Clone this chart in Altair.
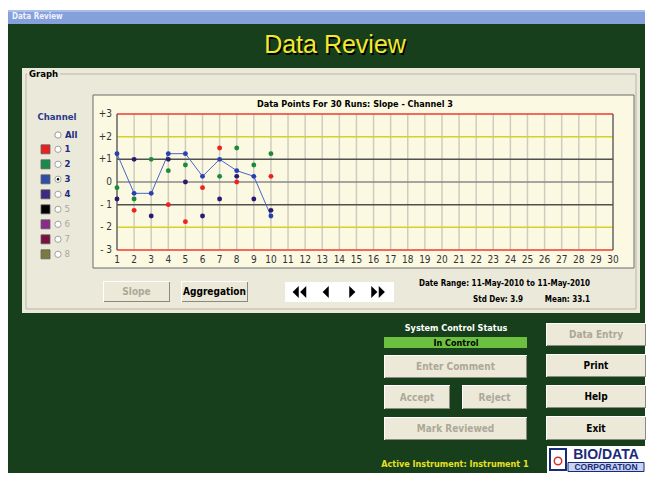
import altair as alt
import pandas as pd

# ---------------- data ----------------
runs = list(range(1, 31))
y_ticks = [3, 2, 1, 0, -1, -2, -3]
y_labels = ["+3", "+2", "+1", "0", "- 1", "- 2", "- 3"]
level_colors = ["#f03a30", "#d8d028", "#505050", "#8a8a8a", "#505050", "#d8d028", "#f03a30"]

ch1_runs = [2, 4, 5, 6, 7, 8, 10]
ch1_vals = [-1.25, -1.0, -1.75, -0.25, 1.5, 0.0, 0.25]
ch2_runs = [1, 2, 3, 4, 5, 7, 8, 9, 10]
ch2_vals = [-0.25, -0.75, 1.0, 0.5, 0.75, 0.25, 1.5, 0.75, 1.25]
ch3_runs = [1, 2, 3, 4, 5, 6, 7, 8, 9, 10]
ch3_vals = [1.25, -0.5, -0.5, 1.25, 1.25, 0.25, 1.0, 0.5, 0.25, -1.5]
ch4_runs = [1, 2, 3, 4, 5, 6, 7, 8, 9, 10]
ch4_vals = [-0.75, 1.0, -1.5, 1.0, 0.0, -1.5, -0.75, 0.25, -0.75, -1.25]

channels = ["1", "2", "3", "4", "5", "6", "7", "8"]
channel_colors = ["#e82020", "#1a8a48", "#2e4ea8", "#3a2a80", "#000000", "#8a2a8a", "#7a1040", "#7a7a40"]
channel_active = [True, True, True, True, False, False, False, False]

title = "Data Points For 30 Runs: Slope - Channel 3"

# ---------------- layout helpers (page pixel coords) ----------------
OX, OY = 117, 114          # plot origin on page
W, H = 496, 136            # plot area
NARROW = "Liberation Sans Narrow, DejaVu Sans Condensed, Arial Narrow, Liberation Sans, sans-serif"
SANS = "Liberation Sans, Arial, sans-serif"
one = alt.Data(values=[{"k": 1}])


def R(x1, y1, x2, y2, fill, stroke=None, sw=1):
    kw = dict(fill=fill)
    if stroke:
        kw.update(stroke=stroke, strokeWidth=sw)
    return alt.Chart(one).mark_rect(**kw).encode(
        x=alt.value(x1 - OX), x2=alt.value(x2 - OX),
        y=alt.value(y1 - OY), y2=alt.value(y2 - OY))


def T(x, y, s, size=10, color="black", bold=False, align="center", font=NARROW, italic=False):
    kw = dict(text=s, fontSize=size, color=color, fontWeight="bold" if bold else "normal",
              align=align, baseline="middle", font=font)
    if italic:
        kw["fontStyle"] = "italic"
    return alt.Chart(one).mark_text(**kw).encode(x=alt.value(x - OX), y=alt.value(y - OY))


def button(x1, y1, x2, y2, label, enabled=True, size=10):
    return [R(x1, y1, x2, y2, "#ffffff"),
            R(x1 + 1, y1 + 1, x2, y2, "#8c8a80"),
            R(x1 + 1, y1 + 1, x2 - 1, y2 - 1, "#ece9d8"),
            T((x1 + x2) / 2, (y1 + y2) / 2 + 0.5, label, size,
              "#000000" if enabled else "#aca899", bold=True)]


def sym(x, y, shape, size, fill, stroke=None, sw=1):
    kw = dict(shape=shape, size=size, filled=True, fill=fill, opacity=1)
    if stroke:
        kw.update(stroke=stroke, strokeWidth=sw)
    return alt.Chart(one).mark_point(**kw).encode(x=alt.value(x - OX), y=alt.value(y - OY))


layers = []
# window chrome
layers.append(R(8, 10, 645, 24, "#86a0dc"))
layers.append(R(8, 10, 645, 12, "#a9bde9"))
layers.append(T(12, 17, "Data Review", 8, "#eef2fb", bold=True, align="left"))
layers.append(R(8, 24, 645, 473, "#173f1c"))
layers.append(T(336.5, 46.5, "Data Review", 25, "#000000", font=SANS))
layers.append(T(335, 45, "Data Review", 25, "#f2e830", font=SANS))

# graph panel
layers.append(R(22, 68, 640, 313, "#ebe9d9"))
layers.append(R(26, 74, 636, 309, "#ebe9d9", stroke="#b8b5a2"))
layers.append(R(27, 69, 60, 79, "#ebe9d9"))
layers.append(T(29, 74, "Graph", 9.5, "#000000", bold=True, align="left"))

# legend
layers.append(T(57, 117, "Channel", 9.5, "#2a3a8a", bold=True))
layers.append(sym(58, 135, "circle", 40, "#ffffff", stroke="#9a9a9a"))
layers.append(T(65, 135, "All", 9.5, "#1e2a80", bold=True, align="left"))
for i, (c, col, act) in enumerate(zip(channels, channel_colors, channel_active)):
    yy = 149.3 + i * 15
    layers.append(R(41, yy - 4.5, 50, yy + 4.5, col, stroke="#606060", sw=0.8))
    layers.append(sym(58, yy, "circle", 40, "#ffffff", stroke="#a0a0a0"))
    if c == "3":
        layers.append(sym(58, yy, "circle", 6, "#000000"))
    layers.append(T(64.5, yy, c, 9.5, "#1e2a80" if act else "#a8a8a8", bold=act, align="left"))

# plot frame and title
layers.append(R(93, 95, 634, 268, "#fbf9e2", stroke="#6a6a6a"))
layers.append(T(355, 104, title, 9, "#000000", bold=True))

# buttons in panel
layers += button(103, 281, 170, 302, "Slope", enabled=False)
layers += button(181, 281, 248, 302, "Aggregation", enabled=True)
layers.append(R(285, 282, 394, 302, "#ffffff"))
left_tri = "M0.45,-1 L0.45,1 L-0.55,0 Z"
right_tri = "M-0.45,-1 L-0.45,1 L0.55,0 Z"
for xx, shp in [(296, left_tri), (303.5, left_tri), (326, left_tri),
                (352, right_tri), (374, right_tri), (381.5, right_tri)]:
    layers.append(sym(xx, 292, shp, 150, "#000000"))
layers.append(T(590, 284, "Date Range: 11-May-2010  to  11-May-2010", 8, "#000000", bold=True, align="right"))
layers.append(T(523, 299.5, "Std Dev: 3.9", 8, "#000000", bold=True, align="right"))
layers.append(T(590, 299.5, "Mean: 33.1", 8, "#000000", bold=True, align="right"))

# lower controls
layers.append(T(456, 328, "System Control Status", 9, "#ffffff", bold=True))
layers.append(R(384, 337, 527, 348, "#6cc040"))
layers.append(T(456, 342.8, "In Control", 9, "#000000", bold=True))
layers += button(384, 355, 527, 378, "Enter Comment", enabled=False)
layers += button(384, 385, 450, 409, "Accept", enabled=False)
layers += button(462, 385, 527, 409, "Reject", enabled=False)
layers += button(384, 417, 527, 440, "Mark Reviewed", enabled=False)
layers += button(546, 323, 646, 346, "Data Entry", enabled=False)
layers += button(546, 354, 646, 377, "Print", enabled=True)
layers += button(546, 385, 646, 408, "Help", enabled=True)
layers += button(546, 416, 646, 440, "Exit", enabled=True)
layers.append(T(455, 464, "Active Instrument: Instrument 1", 9, "#e8e020", bold=True))

# logo
layers.append(R(547, 446, 646, 473, "#ffffff"))
layers.append(R(550, 449, 566, 470, "#ffffff", stroke="#1a2a7a", sw=2))
layers.append(sym(558, 461, "circle", 55, "#ffffff", stroke="#d03030", sw=1.5))
layers.append(T(606, 454.5, "BIO/DATA", 14, "#1a2a7a", bold=True, font=SANS))
layers.append(R(568, 462.5, 644, 471.5, "#c8d4f0", stroke="#1a2a7a"))
layers.append(T(606, 467.3, "CORPORATION", 8.5, "#1a2a7a", bold=True, font=SANS))

# ---------------- plot ----------------
xs = alt.Scale(domain=[1, 30], nice=False, zero=False)
ys = alt.Scale(domain=[-3, 3], nice=False, zero=False)

grid_df = pd.DataFrame({"run": runs, "label": [str(r) for r in runs]})
vgrid = alt.Chart(grid_df).mark_rule(color="#cfccbf", strokeWidth=1.5).encode(
    x=alt.X("run:Q", scale=xs, axis=None),
    y=alt.value(0), y2=alt.value(H))
xlabels = alt.Chart(grid_df).mark_text(fontSize=10, color="#333333", font=NARROW,
                                       baseline="middle", align="center").encode(
    x=alt.X("run:Q", scale=xs, axis=None), y=alt.value(H + 10), text="label:N")

lev_df = pd.DataFrame({"level": y_ticks, "color": level_colors, "label": y_labels})
hlines = alt.Chart(lev_df).mark_rule(strokeWidth=1.5).encode(
    y=alt.Y("level:Q", scale=ys, axis=None),
    x=alt.value(0), x2=alt.value(W),
    color=alt.Color("color:N", scale=None))
ylabels = alt.Chart(lev_df).mark_text(fontSize=10, color="#333333", font=NARROW,
                                      baseline="middle", align="right").encode(
    y=alt.Y("level:Q", scale=ys, axis=None), x=alt.value(-5), text="label:N")

edges = alt.Chart(pd.DataFrame({"run": [runs[0], runs[-1]]})).mark_rule(
    color="#555555", strokeWidth=1.2).encode(
    x=alt.X("run:Q", scale=xs, axis=None), y=alt.value(0), y2=alt.value(H))

pts = pd.concat([
    pd.DataFrame({"run": ch1_runs, "value": ch1_vals, "channel": "1"}),
    pd.DataFrame({"run": ch2_runs, "value": ch2_vals, "channel": "2"}),
    pd.DataFrame({"run": ch4_runs, "value": ch4_vals, "channel": "4"}),
    pd.DataFrame({"run": ch3_runs, "value": ch3_vals, "channel": "3"}),
], ignore_index=True)
pts["order"] = range(len(pts))

line3 = alt.Chart(pd.DataFrame({"run": ch3_runs, "value": ch3_vals})).mark_line(
    color="#4a64c8", strokeWidth=1).encode(
    x=alt.X("run:Q", scale=xs, axis=None), y=alt.Y("value:Q", scale=ys, axis=None))

points = alt.Chart(pts).mark_circle(size=24, opacity=1).encode(
    x=alt.X("run:Q", scale=xs, axis=None), y=alt.Y("value:Q", scale=ys, axis=None),
    color=alt.Color("channel:N",
                    scale=alt.Scale(domain=["1", "2", "3", "4"],
                                    range=["#f02020", "#1a8a3c", "#2840b0", "#2a1a6e"]),
                    legend=None),
    order=alt.Order("order:Q"))

chart = alt.layer(*layers, vgrid, hlines, edges, xlabels, ylabels, line3, points).properties(
    width=W, height=H,
    autosize=alt.AutoSizeParams(type="none"),
    padding={"left": OX - 8, "top": OY - 8, "right": 648 - OX - W, "bottom": 473 - OY - H},
    background="#ffffff",
).configure_view(stroke=None)

chart.save("out.html", embed_options={"renderer": "svg", "actions": False})
